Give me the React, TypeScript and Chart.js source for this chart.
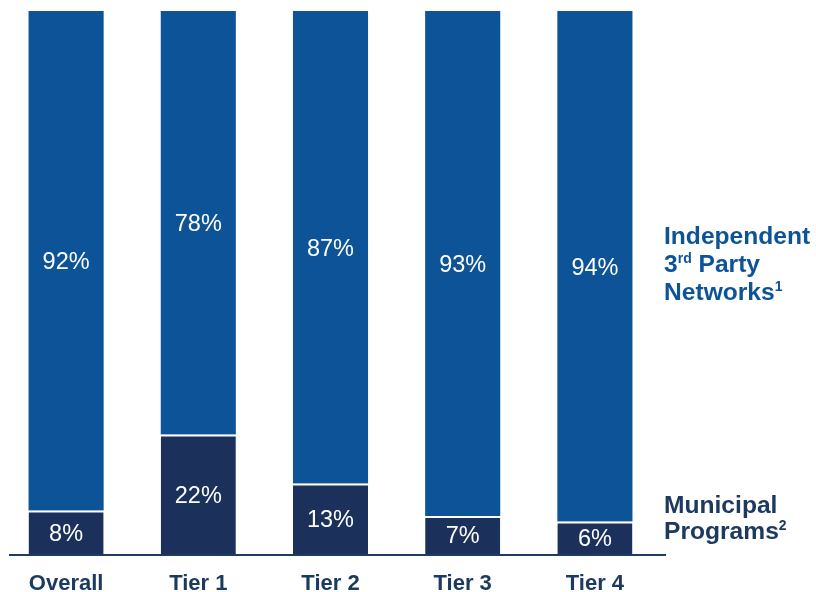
import React, { useEffect, useRef } from "react";
import { Chart, registerables } from "chart.js";

Chart.register(...registerables);

const categories = ["Overall", "Tier 1", "Tier 2", "Tier 3", "Tier 4"];
const municipalValues = [8, 22, 13, 7, 6];
const independentValues = [92, 78, 87, 93, 94];
const seriesNames = ["Municipal Programs", "Independent 3rd Party Networks"];

const BLUE = "#0C5398";
const NAVY = "#1B305B";
const TEXT_NAVY = "#1C3A60";

const overlayPlugin = {
  id: "overlay",
  afterDatasetsDraw(chart: any) {
    const ctx = chart.ctx;
    ctx.save();
    // value labels
    ctx.fillStyle = "#ffffff";
    ctx.font = "23.5px 'Liberation Sans', Arial, sans-serif";
    ctx.textAlign = "center";
    ctx.textBaseline = "middle";
    chart.data.datasets.forEach((ds: any, di: number) => {
      const meta = chart.getDatasetMeta(di);
      meta.data.forEach((bar: any, i: number) => {
        const top = Math.min(bar.y, bar.base);
        const bottom = Math.max(bar.y, bar.base);
        ctx.fillText(ds.data[i] + "%", bar.x, (top + bottom) / 2 + 2);
      });
    });
    // axis line
    const area = chart.chartArea;
    ctx.strokeStyle = "#1F3B60";
    ctx.lineWidth = 2;
    ctx.beginPath();
    ctx.moveTo(9, area.bottom + 1);
    ctx.lineTo(666, area.bottom + 1);
    ctx.stroke();
    // category labels
    ctx.fillStyle = TEXT_NAVY;
    ctx.font = "bold 22px 'Liberation Sans', Arial, sans-serif";
    ctx.textBaseline = "alphabetic";
    const xScale = chart.scales.x;
    categories.forEach((c, i) => {
      ctx.fillText(c, xScale.getPixelForValue(i), 590);
    });
    // legend text
    const drawRich = (parts: [string, boolean][], x: number, y: number, color: string) => {
      ctx.fillStyle = color;
      ctx.textAlign = "left";
      let cx = x;
      parts.forEach(([t, sup]) => {
        ctx.font = sup
          ? "bold 14px 'Liberation Sans', Arial, sans-serif"
          : "bold 24.6px 'Liberation Sans', Arial, sans-serif";
        ctx.fillText(t, cx, sup ? y - 9 : y);
        cx += ctx.measureText(t).width;
      });
    };
    const ix = 664;
    drawRich([["Independent", false]], ix, 244, BLUE);
    drawRich([["3", false], ["rd", true], [" Party", false]], ix, 272, BLUE);
    drawRich([["Networks", false], ["1", true]], ix, 300, BLUE);
    drawRich([["Municipal", false]], ix, 513, TEXT_NAVY);
    drawRich([["Programs", false], ["2", true]], ix, 539, TEXT_NAVY);
    ctx.restore();
  },
};

export default function App() {
  const ref = useRef<HTMLCanvasElement>(null);
  useEffect(() => {
    if (!ref.current) return;
    const chart = new Chart(ref.current, {
      type: "bar",
      data: {
        labels: categories,
        datasets: [
          {
            label: seriesNames[0],
            data: municipalValues,
            backgroundColor: NAVY,
            borderColor: "#ffffff",
            borderWidth: { top: 2, left: 0, right: 0, bottom: 0 },
            borderSkipped: false,
            barPercentage: 0.568,
            categoryPercentage: 1,
          },
          {
            label: seriesNames[1],
            data: independentValues,
            backgroundColor: BLUE,
            borderWidth: 0,
            barPercentage: 0.568,
            categoryPercentage: 1,
          },
        ],
      },
      options: {
        responsive: false,
        animation: false,
        layout: { padding: { left: 0, right: 155, top: 11, bottom: 38 } },
        plugins: { legend: { display: false }, tooltip: { enabled: false } },
        scales: {
          x: { stacked: true, display: false },
          y: { stacked: true, display: false, min: 0, max: 100 },
        },
      },
      plugins: [overlayPlugin],
    });
    return () => chart.destroy();
  }, []);
  return (
    <div style={{ position: "fixed", left: 0, top: 0, width: 816, height: 592, background: "#fff" }}>
      <canvas ref={ref} width={816} height={592} />
    </div>
  );
}
